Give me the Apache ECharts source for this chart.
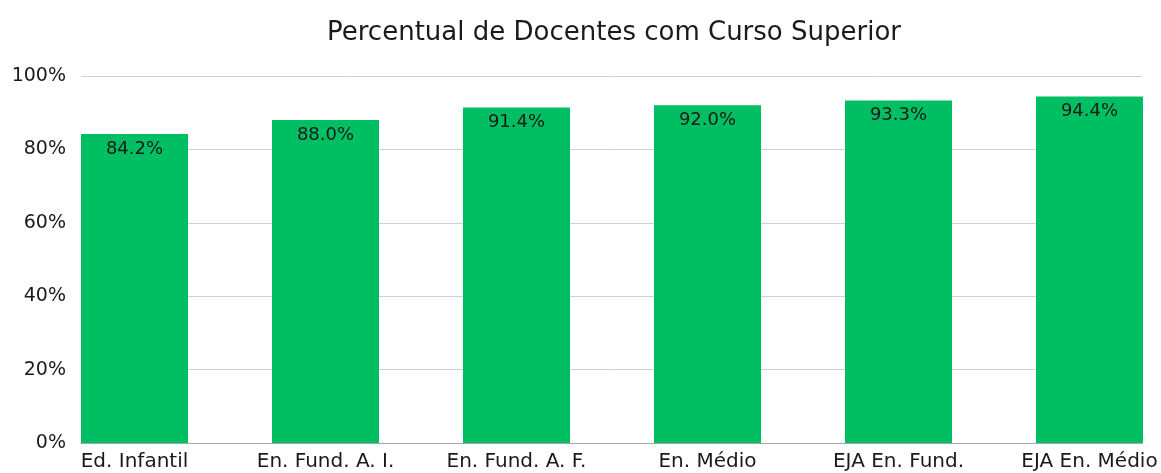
<!DOCTYPE html>
<html>
<head>
<meta charset="utf-8">
<script src="https://cdn.jsdelivr.net/npm/echarts@6/dist/echarts.min.js"></script>
<style>html,body{margin:0;padding:0;background:#fff;}#c{width:1161px;height:473px;}</style>
</head>
<body>
<div id="c"></div>
<script>
const categories = ['Ed. Infantil', 'En. Fund. A. I.', 'En. Fund. A. F.', 'En. Médio', 'EJA En. Fund.', 'EJA En. Médio'];
const values = [84.2, 88.0, 91.4, 92.0, 93.3, 94.4];
const yTicks = [0, 20, 40, 60, 80, 100];

const FONT = '"DejaVu Sans", sans-serif';
const chart = echarts.init(document.getElementById('c'));
chart.setOption({
  animation: false,
  title: {
    text: 'Percentual de Docentes com Curso Superior',
    left: 322, top: 15,
    textStyle: { fontFamily: FONT, fontSize: 26, fontWeight: 'normal', color: '#1a1a1a' }
  },
  grid: [
    { left: 81, right: 19, top: 76, bottom: 30, outerBoundsMode: 'none', containLabel: false },
    { left: 39, width: 1146, top: 76, bottom: 30, outerBoundsMode: 'none', containLabel: false }
  ],
  xAxis: [
    { type: 'category', gridIndex: 0, data: categories,
      axisLine: { show: true, lineStyle: { color: '#a6a6a6', width: 1 } },
      axisTick: { show: false }, axisLabel: { show: false }, splitLine: { show: false } },
    { type: 'category', gridIndex: 1, data: categories,
      axisLine: { show: false }, axisTick: { show: false },
      axisLabel: { fontFamily: FONT, fontSize: 20, color: '#1a1a1a', margin: 9 } }
  ],
  yAxis: [
    { type: 'value', gridIndex: 0, min: yTicks[0], max: yTicks[yTicks.length - 1], interval: 20,
      axisLabel: { formatter: '{value}%', fontFamily: FONT, fontSize: 19, color: '#1a1a1a', margin: 15 },
      axisLine: { show: false }, axisTick: { show: false },
      splitLine: { lineStyle: { color: '#d0d0d0', width: 1 } } },
    { type: 'value', gridIndex: 1, min: 0, max: 100, show: false, splitLine: { show: false } }
  ],
  series: [{
    type: 'bar', xAxisIndex: 1, yAxisIndex: 1, data: values, barWidth: 107,
    itemStyle: { color: '#00BF63' },
    label: { show: true, position: 'insideTop', distance: 6,
      formatter: p => p.value.toFixed(1) + '%',
      fontFamily: FONT, fontSize: 18, color: '#1a1a1a' }
  }]
});
</script>
</body>
</html>
